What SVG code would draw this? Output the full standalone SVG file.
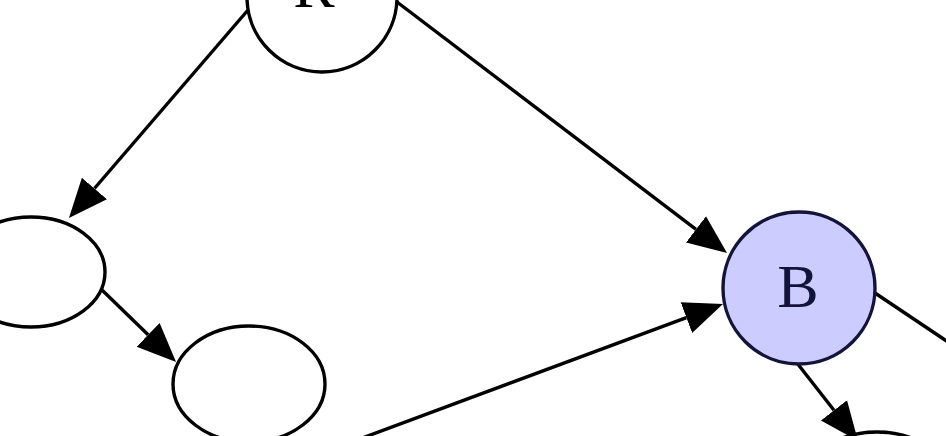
<svg xmlns="http://www.w3.org/2000/svg" width="946" height="436" viewBox="0 0 946 436">
<defs>
<style>
.node{fill:none;stroke:#000;stroke-width:3.4}
.edge{fill:none;stroke:#000;stroke-width:3.4}
.lbl{font-family:"Liberation Serif","Times New Roman",serif;font-size:62px;text-anchor:middle;fill:#000}
.hl{fill:#ccccff;stroke:#14143a}
</style>
<marker id="ah" markerUnits="userSpaceOnUse" markerWidth="42" markerHeight="36" refX="0" refY="18" orient="auto" viewBox="0 0 42 36">
<path d="M0,1.5 L39,18 L0,34.5 Z" fill="#000"/>
</marker>
</defs>
<rect width="946" height="436" fill="#fff"/>
<g id="edges">
<line class="edge" x1="248" y1="10" x2="94.4" y2="188.5" marker-end="url(#ah)"/>
<line class="edge" x1="397" y1="2" x2="696" y2="229.4" marker-end="url(#ah)"/>
<line class="edge" x1="102" y1="290" x2="148.1" y2="334.8" marker-end="url(#ah)"/>
<line class="edge" x1="330" y1="450" x2="686.4" y2="317.6" marker-end="url(#ah)"/>
<line class="edge" x1="875" y1="293" x2="960" y2="350"/>
<line class="edge" x1="797" y1="363" x2="834" y2="410.3" marker-end="url(#ah)"/>
</g>
<g id="node-R">
<circle class="node" cx="322" cy="-3" r="75"/>
<text class="lbl" x="314" y="7">R</text>
</g>
<g id="node-left">
<ellipse class="node" cx="31" cy="272" rx="74" ry="55"/>
</g>
<g id="node-mid">
<ellipse class="node" cx="249" cy="384" rx="76" ry="58"/>
</g>
<g id="node-B">
<circle class="node hl" cx="799" cy="288" r="76"/>
<text class="lbl" x="798" y="307" style="fill:#14143a">B</text>
</g>
<g id="node-bottom">
<ellipse class="node" cx="877" cy="487" rx="75" ry="55"/>
</g>
</svg>
